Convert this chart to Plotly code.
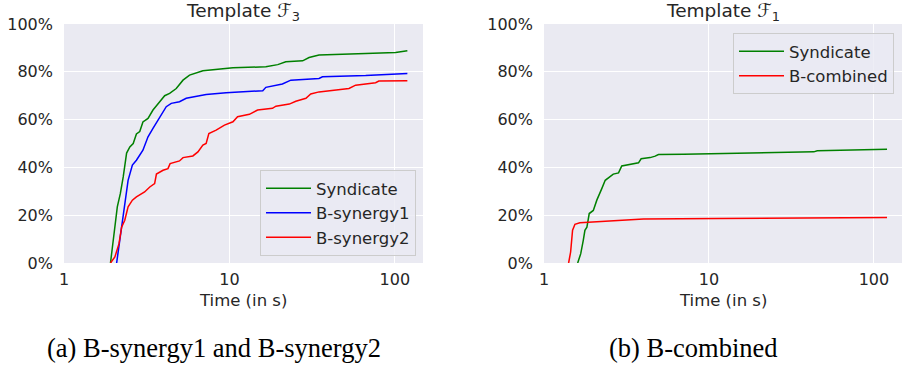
import plotly.graph_objects as go

# ---------------- data ----------------
f3_syndicate_t = [1.91, 1.98, 2.10, 2.19, 2.28, 2.39, 2.50, 2.62, 2.74, 2.87, 3.00, 3.22, 3.45, 3.79, 4.06, 4.35,
                  4.77, 5.24, 5.74, 6.91, 9.55, 10.5, 16.6, 19.6, 21.9, 27.7, 30.3, 34.8, 66.6, 101, 119]
f3_syndicate_p = [0, 9.5, 23.5, 29, 36, 46, 48.6, 50, 54, 55, 59, 60.5, 64, 67.5, 70, 71,
                  73, 76.5, 78.6, 80.4, 81.4, 81.7, 82.1, 83, 84.2, 84.6, 86, 87, 87.7, 88.1, 88.8]

f3_bsyn1_t = [2.08, 2.17, 2.30, 2.44, 2.59, 2.74, 3.0, 3.22, 3.45, 3.79, 4.15, 4.45, 4.99, 5.48, 6.29, 7.23,
              9.55, 15.9, 16.6, 20.9, 23.5, 34.8, 36.5, 66.6, 119]
f3_bsyn1_p = [0, 9.5, 23.5, 34.6, 41, 43, 47.2, 52.8, 56.3, 61.2, 65.4, 66.8, 67.5, 68.9, 69.8, 70.5,
              71.2, 72.1, 73.5, 74.9, 76.5, 77.2, 77.9, 78.4, 79.3]

f3_bsyn2_t = [1.91, 2.03, 2.15, 2.23, 2.33, 2.44, 2.59, 2.74, 3.07, 3.30, 3.53, 3.62, 3.97, 4.25, 4.38, 4.99,
              5.24, 6.01, 6.45, 6.91, 7.23, 7.51, 8.31, 9.33, 10.5, 11.2, 13.2, 14.8, 18.2, 19.1, 23.0, 25.2,
              29.0, 31.0, 34.8, 41.9, 52.8, 57.9, 76.5, 80, 119]
f3_bsyn2_p = [0, 2.5, 8.1, 15, 17.9, 23.5, 26.3, 27.7, 29.7, 31.8, 33.2, 37.2, 38.8, 39.5, 41.6, 42.7,
              44.1, 44.8, 46.5, 49.3, 50, 54.2, 55.6, 57.7, 59.1, 61.2, 62.2, 64, 64.7, 65.6, 66.5, 67.7,
              68.9, 70.7, 71.6, 72.3, 73, 74.4, 75.4, 76.1, 76.3]

f1_syndicate_t = [1.60, 1.67, 1.73, 1.77, 1.82, 1.88, 1.99, 2.09, 2.24, 2.35, 2.63, 2.83, 2.96, 3.33, 3.74,
                  3.88, 4.4, 4.72, 4.94, 7.02, 22.5, 43.2, 45.3, 120]
f1_syndicate_p = [0, 3.9, 9.5, 13.7, 15, 20.7, 22, 26.3, 31.1, 34.6, 37.2, 37.7, 40.6, 41.3, 41.9,
                  43.6, 44.1, 44.7, 45.4, 45.5, 46.1, 46.5, 47, 47.6]

f1_bcomb_t = [1.41, 1.45, 1.49, 1.54, 1.65, 1.99, 2.76, 4.01, 11.2, 120]
f1_bcomb_p = [0, 4.6, 13.7, 16.2, 16.8, 17.2, 17.9, 18.4, 18.6, 19.0]

y_ticks = [0, 20, 40, 60, 80, 100]
x_ticks = [1, 10, 100]
titles = ["Template ℱ<sub>3</sub>", "Template ℱ<sub>1</sub>"]
captions = ["(a) B-synergy1 and B-synergy2", "(b) B-combined"]
x_label = "Time (in s)"

# ---------------- style ----------------
W, H = 904, 367
BG = "#EAEAF2"
TXT = "#262626"
GREEN, BLUE, RED = "#008000", "#0000FF", "#FF0000"
LW = 1.5

def px(x):
    return x / W

def py(y):
    return 1 - y / H

left_dom = [px(64), px(423)]
right_dom = [px(544), px(902)]
y_dom = [py(263), py(24)]

fig = go.Figure()

def add(t, p, name, color, xa, ya, leg, grp):
    fig.add_trace(go.Scatter(x=t, y=p, mode="lines", name=name,
                             line=dict(color=color, width=LW),
                             xaxis=xa, yaxis=ya, legend=leg, legendgroup=grp))

add(f3_syndicate_t, f3_syndicate_p, "Syndicate", GREEN, "x", "y", "legend", "a1")
add(f3_bsyn1_t, f3_bsyn1_p, "B-synergy1", BLUE, "x", "y", "legend", "a2")
add(f3_bsyn2_t, f3_bsyn2_p, "B-synergy2", RED, "x", "y", "legend", "a3")
add(f1_syndicate_t, f1_syndicate_p, "Syndicate", GREEN, "x2", "y2", "legend2", "b1")
add(f1_bcomb_t, f1_bcomb_p, "B-combined", RED, "x2", "y2", "legend2", "b2")

xaxis_common = dict(type="log", range=[0, 2.17], tickvals=x_ticks, ticktext=[str(v) for v in x_ticks],
                    showgrid=True, gridcolor="white", gridwidth=1.3, zeroline=False, showline=False,
                    ticks="", tickfont=dict(family="DejaVu Sans", size=16, color=TXT),
                    ticklabelstandoff=5, automargin=False)
yaxis_common = dict(range=[0, 100], tickvals=y_ticks, ticktext=[f"{v}%" for v in y_ticks],
                    showgrid=True, gridcolor="white", gridwidth=1.3, zeroline=False, showline=False,
                    ticks="", tickfont=dict(family="DejaVu Sans", size=16, color=TXT),
                    ticklabelstandoff=10, domain=y_dom, automargin=False)

legend_common = dict(bgcolor="rgba(234,234,242,0.8)", bordercolor="#CCCCCC", borderwidth=1,
                     font=dict(family="DejaVu Sans", size=16.5, color=TXT),
                     xref="paper", yref="paper", tracegroupgap=0, itemwidth=45)

fig.update_layout(
    width=W, height=H,
    margin=dict(l=0, r=0, t=0, b=0, autoexpand=False),
    paper_bgcolor="white", plot_bgcolor=BG,
    showlegend=True,
    xaxis=dict(xaxis_common, domain=left_dom, anchor="y"),
    yaxis=dict(yaxis_common, anchor="x"),
    xaxis2=dict(xaxis_common, domain=right_dom, anchor="y2"),
    yaxis2=dict(yaxis_common, anchor="x2"),
    legend=dict(legend_common, x=px(416), xanchor="right", y=py(256), yanchor="bottom"),
    legend2=dict(legend_common, x=px(894), xanchor="right", y=py(33), yanchor="top"),
)

annotations = []
centers = [(left_dom[0] + left_dom[1]) / 2, (right_dom[0] + right_dom[1]) / 2]
for c, t in zip(centers, titles):
    annotations.append(dict(text=t, x=c, y=py(12), xref="paper", yref="paper", showarrow=False,
                            xanchor="center", yanchor="middle",
                            font=dict(family="DejaVu Sans", size=18.5, color=TXT)))
    annotations.append(dict(text=x_label, x=c, y=py(300), xref="paper", yref="paper", showarrow=False,
                            xanchor="center", yanchor="middle",
                            font=dict(family="DejaVu Sans", size=16.5, color=TXT)))
for cx, t in zip([213.5, 693.5], captions):
    annotations.append(dict(text=t, x=px(cx), y=py(348), xref="paper", yref="paper", showarrow=False,
                            xanchor="center", yanchor="middle",
                            font=dict(family="Liberation Serif", size=26.5, color="black")))
fig.update_layout(annotations=annotations)

fig.write_html("out.html", config={"displayModeBar": False},
               post_script="document.body.style.margin='0px';document.body.style.overflow='hidden';")
